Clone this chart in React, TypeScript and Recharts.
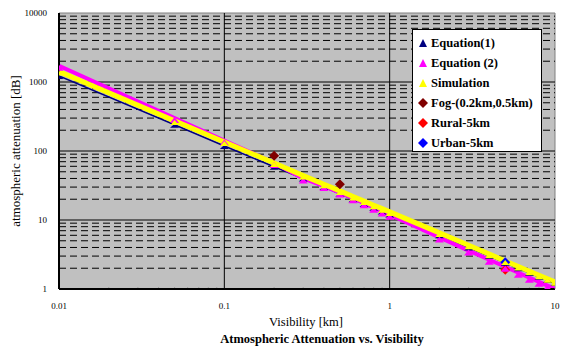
import React from 'react';
import {
  ComposedChart, Line, Scatter, XAxis, YAxis, ReferenceLine, ReferenceArea,
} from 'recharts';

// visibility [km] sample points
const visibility = [0.01, 0.05, 0.1, 0.2, 0.3, 0.4, 0.5, 0.6, 0.7, 0.8, 0.9, 1, 2, 3, 4, 5, 6, 7, 8, 9, 10];

// attenuation [dB]
const equation1 = [1220, 240, 118, 59, 40, 30, 24, 20, 17, 15, 13.3, 12, 6, 4, 3, 2.4, 2, 1.7, 1.5, 1.35, 1.22];
const equation2 = [1720, 300, 142, 67, 40, 31, 25, 20.7, 17.5, 15.1, 13.3, 11.9, 5.6, 3.6, 2.65, 2.1, 1.72, 1.46, 1.27, 1.12, 1.0];
const simulation = [1420, 273, 135, 67, 44, 33, 26.4, 21.9, 18.8, 16.4, 14.6, 13.1, 6.5, 4.3, 3.2, 2.55, 2.12, 1.81, 1.58, 1.41, 1.27];

const fogVisibility = [0.2, 0.5];
const fogValues = [85, 33];
const ruralVisibility = [5];
const ruralValues = [1.9];
const urbanVisibility = [5];
const urbanValues = [2.45];

const xTicks = [0.01, 0.1, 1, 10];
const yTicks = [1, 10, 100, 1000, 10000];
const minorSteps = [2, 3, 4, 5, 6, 7, 8, 9];

const toPoints = (xs: number[], ys: number[]) => xs.map((x, i) => ({ x, y: ys[i] }));

const eq1Data = toPoints(visibility, equation1);
const eq2Data = toPoints(visibility, equation2);
const simData = toPoints(visibility, simulation);
const fogData = toPoints(fogVisibility, fogValues);
const ruralData = toPoints(ruralVisibility, ruralValues);
const urbanData = toPoints(urbanVisibility, urbanValues);

const yMinor = [1, 10, 100, 1000].flatMap(d => minorSteps.map(m => d * m));
const xMinor = [0.01, 0.1, 1].flatMap(d => minorSteps.map(m => +(d * m).toFixed(3)));

const SERIF = '"Liberation Serif", "Times New Roman", serif';

const triangleDot = (color: string, w: number, h: number) => (props: any) => {
  const { cx, cy, index } = props;
  if (cx == null || cy == null) return <g key={index} />;
  return (
    <polygon
      key={index}
      points={`${cx - w / 2},${cy + h - 1} ${cx + w / 2},${cy + h - 1} ${cx},${cy - 1}`}
      fill={color}
    />
  );
};

const diamond = (color: string) => (props: any) => {
  const { cx, cy } = props;
  const r = 5;
  return <polygon points={`${cx},${cy - r} ${cx + r},${cy} ${cx},${cy + r} ${cx - r},${cy}`} fill={color} />;
};

const legendItems = [
  { label: 'Equation(1)', color: '#000080', shape: 'tri' },
  { label: 'Equation (2)', color: '#ff00ff', shape: 'tri' },
  { label: 'Simulation', color: '#ffff00', shape: 'tri' },
  { label: 'Fog-(0.2km,0.5km)', color: '#800000', shape: 'dia' },
  { label: 'Rural-5km', color: '#ff0000', shape: 'dia' },
  { label: 'Urban-5km', color: '#0000ff', shape: 'dia' },
];

const ChartLegend = () => (
  <div style={{
    position: 'absolute', left: 412, top: 29, width: 128, height: 121,
    background: '#fff', border: '1px solid #000', fontFamily: SERIF,
    fontWeight: 'bold', fontSize: 12.5, color: '#000',
  }}>
    {legendItems.map((item, i) => (
      <div key={item.label} style={{ position: 'absolute', left: 4, top: 5 + i * 20, height: 16, display: 'flex', alignItems: 'center', whiteSpace: 'nowrap' }}>
        <svg width={12} height={12} style={{ marginRight: 2 }}>
          {item.shape === 'tri'
            ? <polygon points="2,10 10,10 6,2" fill={item.color} />
            : <polygon points="6,1 11,6 6,11 1,6" fill={item.color} />}
        </svg>
        <span>{item.label}</span>
      </div>
    ))}
  </div>
);

const tickStyle = { fontFamily: SERIF, fontSize: 9, fill: '#000' };

export default function App() {
  return (
    <div style={{ position: 'absolute', left: 0, top: 0, width: 576, height: 353, background: '#fff' }}>
      <ComposedChart width={576} height={353} margin={{ top: 13, right: 21, bottom: 44, left: 9 }}>
        <XAxis
          dataKey="x"
          type="number"
          scale="log"
          domain={[0.01, 10]}
          ticks={xTicks}
          allowDataOverflow
          height={20}
          tick={tickStyle}
          tickLine={false}
          tickMargin={8}
          tickFormatter={(v: number) => String(v)}
          axisLine={{ stroke: '#000', strokeWidth: 2 }}
        />
        <YAxis
          dataKey="y"
          type="number"
          scale="log"
          domain={[1, 10000]}
          ticks={yTicks}
          allowDataOverflow
          width={50}
          tick={tickStyle}
          tickLine={false}
          tickMargin={6}
          axisLine={{ stroke: '#000', strokeWidth: 2 }}
        />
        <ReferenceArea x1={0.01} x2={10} y1={1} y2={10000} fill="#c0c0c0" fillOpacity={1} stroke="#808080" />
        {yMinor.map(v => (
          <ReferenceLine key={`ym-${v}`} y={v} stroke="#000" strokeDasharray="7 4" />
        ))}
        {[10, 100, 1000].map(v => (
          <ReferenceLine key={`yM-${v}`} y={v} stroke="#000" />
        ))}
        {[0.1, 1].map(v => (
          <ReferenceLine key={`xM-${v}`} x={v} stroke="#000" />
        ))}
        {xMinor.map(v => (
          <ReferenceLine key={`xm-${v}`} segment={[{ x: v, y: 1 }, { x: v, y: 1.04 }]} stroke="#000" />
        ))}
        <Scatter data={urbanData} dataKey="y" shape={diamond('#0000ff')} isAnimationActive={false} />
        <Scatter data={ruralData} dataKey="y" shape={diamond('#ff0000')} isAnimationActive={false} />
        <Line data={eq1Data} dataKey="y" stroke="#000080" strokeWidth={1.5} dot={triangleDot('#000080', 9, 4)} isAnimationActive={false} legendType="none" />
        <Line data={eq2Data} dataKey="y" stroke="#ff00ff" strokeWidth={4} dot={triangleDot('#ff00ff', 9, 6)} isAnimationActive={false} legendType="none" />
        <Line data={simData} dataKey="y" stroke="#ffff00" strokeWidth={5} dot={triangleDot('#ffff00', 8, 5)} isAnimationActive={false} legendType="none" />
        <Scatter data={fogData} dataKey="y" shape={diamond('#800000')} isAnimationActive={false} />
      </ComposedChart>
      <ChartLegend />
      <div style={{
        position: 'absolute', left: 16, top: 151, transform: 'translate(-50%, -50%) rotate(-90deg)',
        fontFamily: SERIF, fontSize: 13, whiteSpace: 'nowrap', color: '#000',
      }}>atmospheric attenuation [dB]</div>
      <div style={{
        position: 'absolute', left: 306, top: 322, transform: 'translate(-50%, -50%)',
        fontFamily: SERIF, fontSize: 12.5, whiteSpace: 'nowrap', color: '#000',
      }}>Visibility [km]</div>
      <div style={{
        position: 'absolute', left: 322, top: 339, transform: 'translate(-50%, -50%)',
        fontFamily: SERIF, fontSize: 12.5, fontWeight: 'bold', whiteSpace: 'nowrap', color: '#000',
      }}>Atmospheric Attenuation vs. Visibility</div>
    </div>
  );
}
